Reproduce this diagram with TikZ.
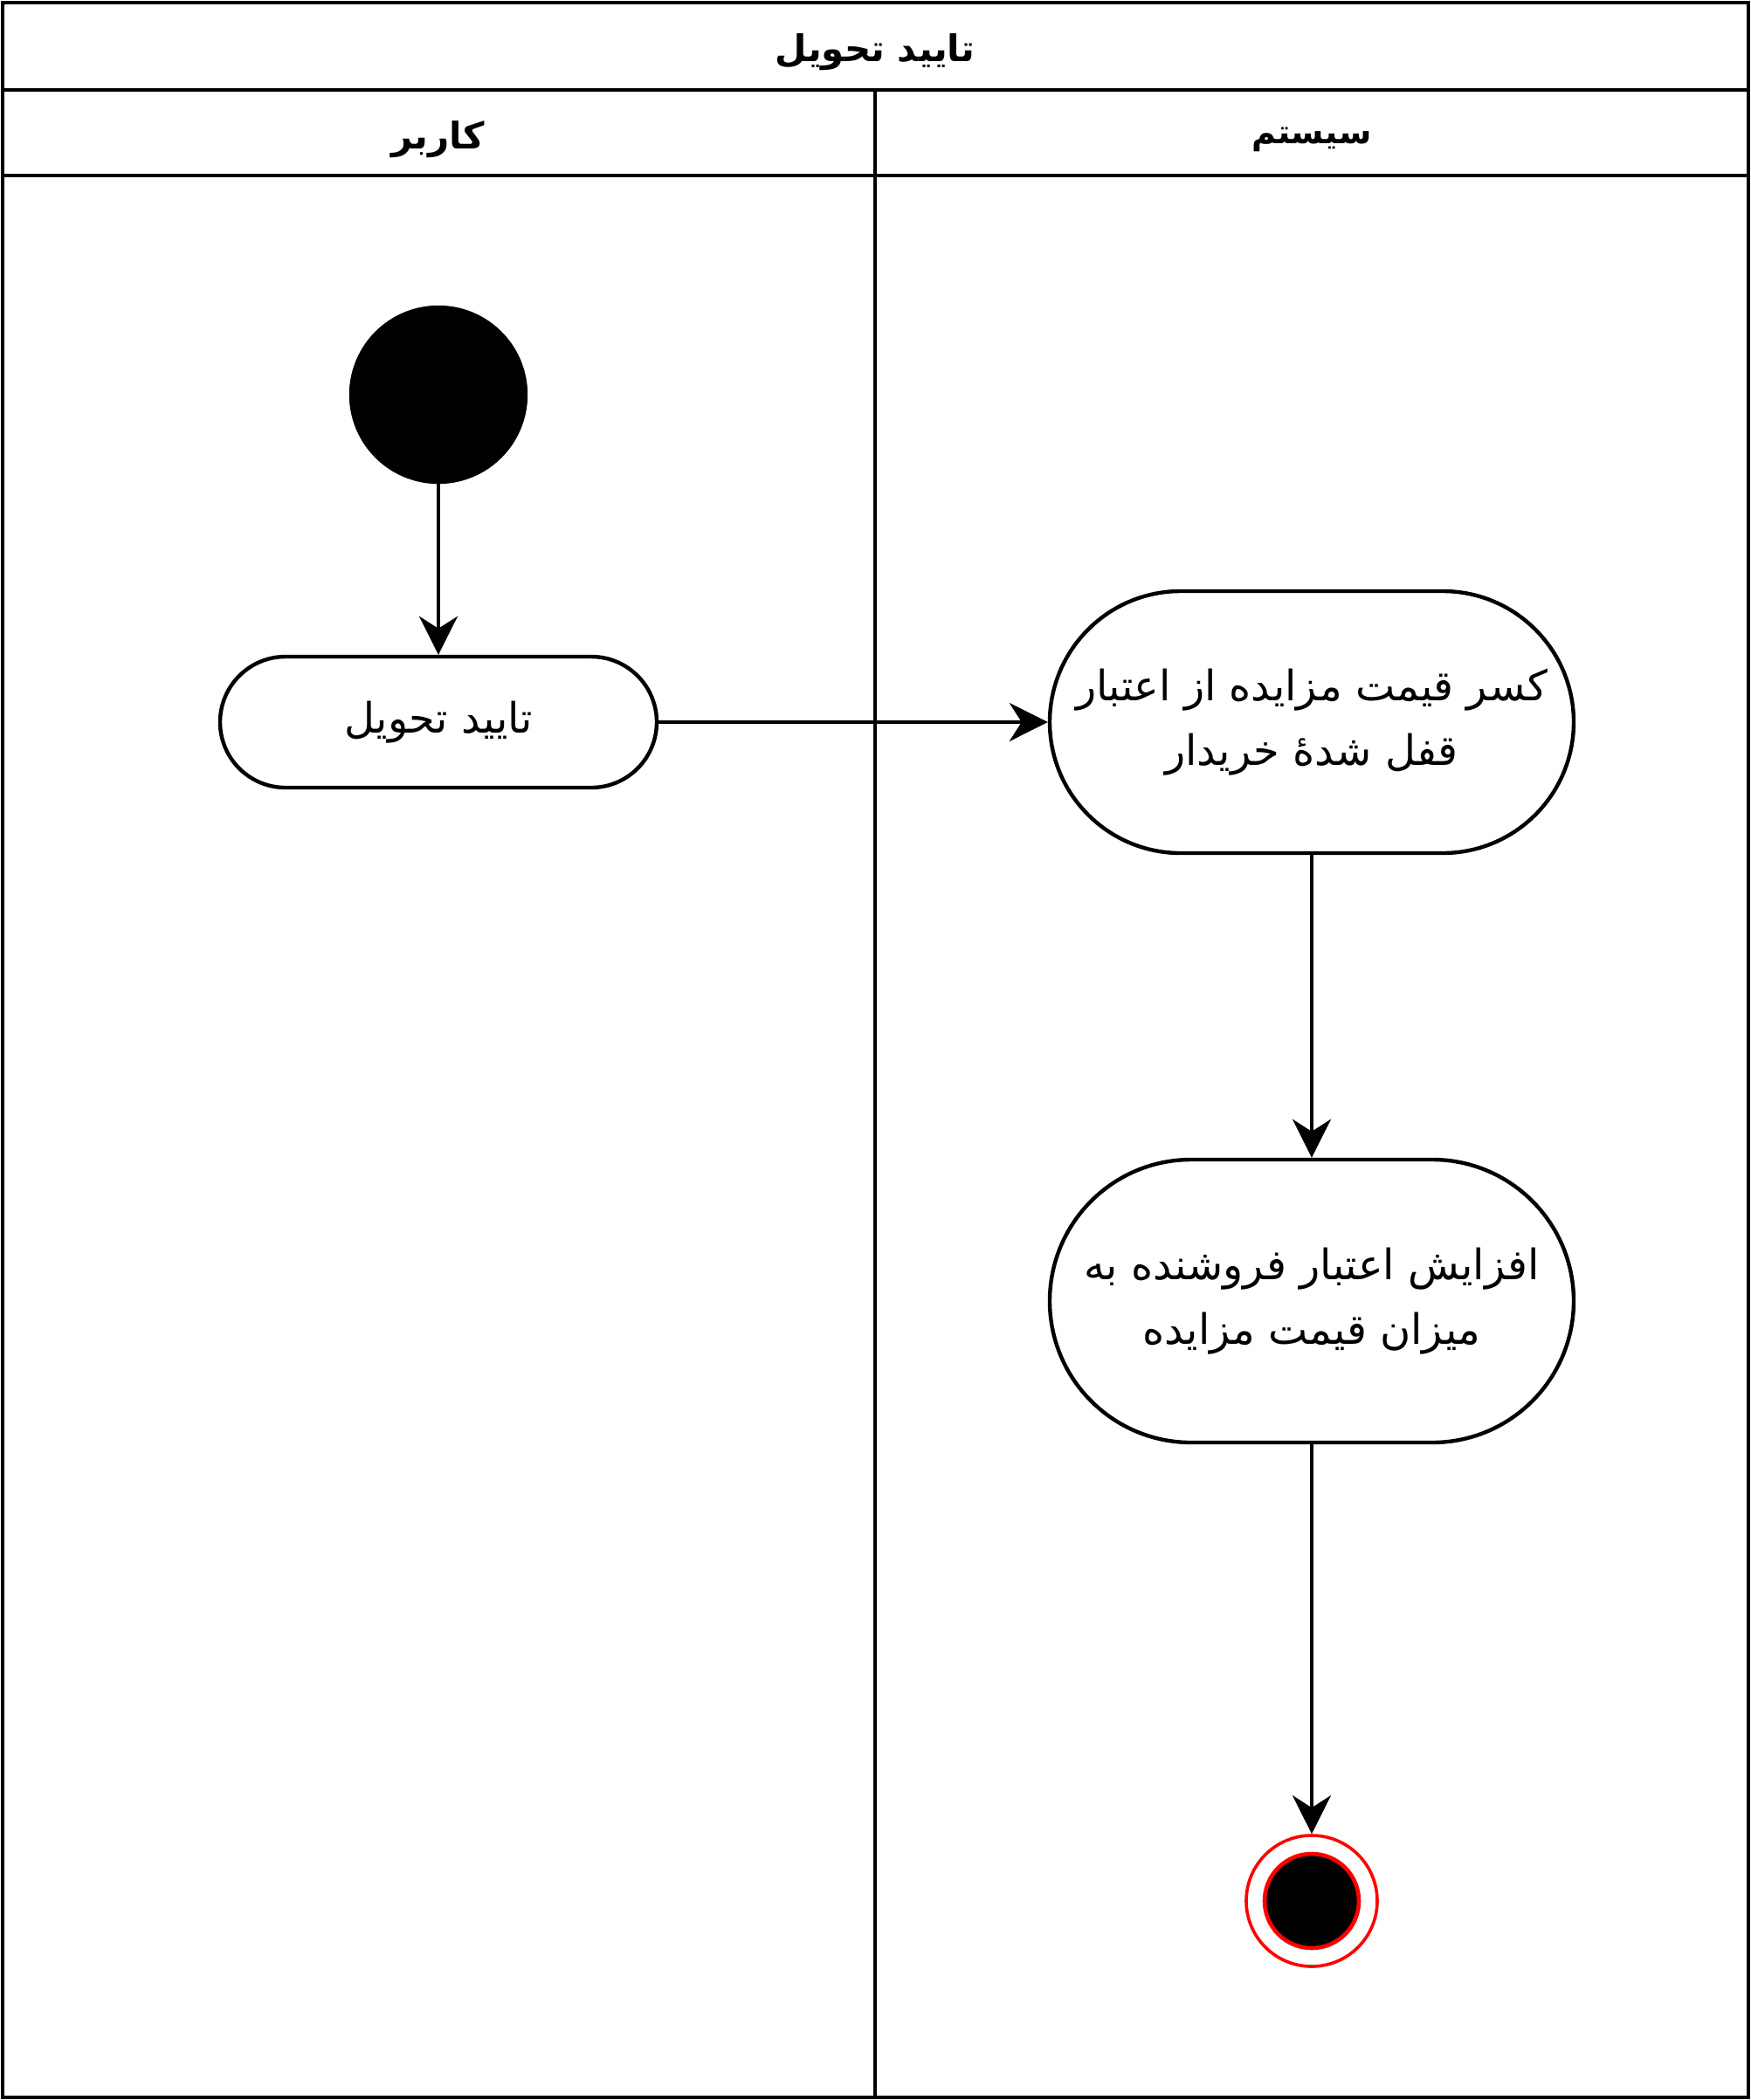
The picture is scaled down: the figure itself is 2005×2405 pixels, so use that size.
\documentclass[tikz,border=0pt]{standalone}
\usepackage{fontspec}
\usetikzlibrary{arrows.meta}
\newfontfamily\arabicfont[Script=Arabic]{DejaVu Sans}
\TeXXeTstate=1
\begin{document}
\begin{tikzpicture}[x=0.5pt,y=-0.5pt,
  lw/.style={line width=2.2pt},
  act/.style={draw,lw,fill=white,align=center,inner sep=0pt,font=\arabicfont\fontsize{24}{37}\selectfont},
  hdr/.style={inner sep=0pt,font=\arabicfont\bfseries\fontsize{21}{26}\selectfont},
  flow/.style={lw,-{Stealth[length=22pt,width=22pt,inset=7pt]}}]
\useasboundingbox (0,0) rectangle (2005,2405);
% frame
\draw[lw] (3,3) rectangle (2002,2402);
\draw[lw] (3,103) -- (2002,103);
\draw[lw] (3,201) -- (2002,201);
\draw[lw] (1002,103) -- (1002,2402);
\node[hdr] (title) at (1002,60) {\beginR تایید تحویل\endR};
\node[hdr] (laneA) at (502,160) {\beginR کاربر\endR};
\node[hdr,font=\arabicfont\bfseries\fontsize{19}{24}\selectfont] (laneB) at (1502,160) {\beginR سیستم\endR};
% nodes
\node[circle,fill=black,draw=black,lw,minimum size=100pt,inner sep=0pt] (start) at (502,452) {};
\node[act,minimum width=250pt,minimum height=75pt,rounded corners=37.5pt] (a1) at (502,827) {\beginR تایید تحویل\endR};
\node[act,minimum width=300pt,minimum height=150pt,rounded corners=75pt] (a2) at (1502,827) {\beginR کسر قیمت مزایده از اعتبار\endR\\\beginR قفل شدهٔ خریدار\endR};
\node[act,minimum width=300pt,minimum height=162pt,rounded corners=81pt] (a3) at (1502,1490) {\beginR افزایش اعتبار فروشنده به\endR\\\beginR میزان قیمت مزایده\endR};
\node[circle,draw=red,line width=1.8pt,minimum size=75pt,inner sep=0pt] (end) at (1502,2177) {};
\node[circle,draw=red,fill=black,line width=2.3pt,minimum size=54pt,inner sep=0pt] (endin) at (end.center) {};
% connectors
\draw[flow] (start) -- (a1);
\draw[flow] (a1) -- (a2);
\draw[flow] (a2) -- (a3);
\draw[flow] (a3) -- (end);
\end{tikzpicture}
\end{document}
